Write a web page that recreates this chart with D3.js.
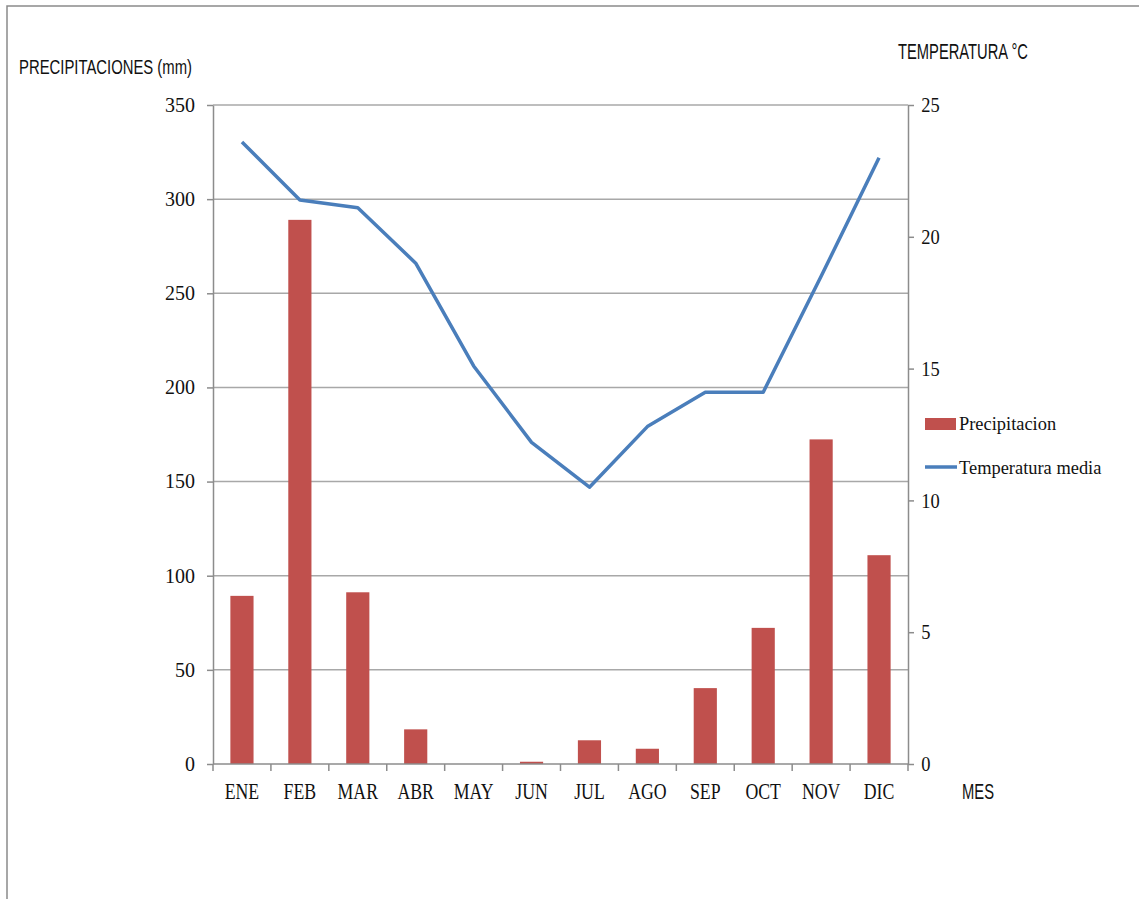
<!DOCTYPE html>
<html>
<head>
<meta charset="utf-8">
<script src="https://cdn.jsdelivr.net/npm/d3@7"></script>
<style>
  html, body { margin: 0; padding: 0; background: #fff; }
  svg { display: block; }
</style>
</head>
<body>
<script>
// Monthly climate data
const months = ["ENE","FEB","MAR","ABR","MAY","JUN","JUL","AGO","SEP","OCT","NOV","DIC"];
const precipitacion = [89.3, 289, 91.2, 18.4, 0, 1.2, 12.6, 8.1, 40.3, 72.3, 172.4, 110.9];
const temperatura = [23.6, 21.4, 21.1, 19.0, 15.1, 12.2, 10.5, 12.8, 14.1, 14.1, 18.5, 23.0];
const precipTicks = [0, 50, 100, 150, 200, 250, 300, 350];
const tempTicks = [0, 5, 10, 15, 20, 25];
const legendItems = ["Precipitacion", "Temperatura media"];

const W = 1139, H = 899;
const margin = { left: 213, right: W - 908, top: 105, bottom: H - 764 };
const barColor = "#c0504d";
const lineColor = "#4a7ebb";
const axisColor = "#8c8c8c";
const gridColor = "#a8a8a8";
const serif = "'Liberation Serif', 'Times New Roman', serif";
const sans = "'Liberation Sans', Arial, sans-serif";

const svg = d3.select("body").append("svg").attr("width", W).attr("height", H);

// Outer frame (top and left edges)
svg.append("path")
  .attr("d", `M7,${H} L7,6 L${W},6`)
  .attr("fill", "none").attr("stroke", "#8a8a8a").attr("stroke-width", 1.5);

const x = d3.scaleBand().domain(months).range([margin.left, W - margin.right]).padding(0);
const yP = d3.scaleLinear().domain([0, 350]).range([H - margin.bottom, margin.top]);
const yT = d3.scaleLinear().domain([0, 25]).range([H - margin.bottom, margin.top]);

// Horizontal gridlines
svg.append("g").selectAll("line").data(precipTicks.filter(d => d > 0)).join("line")
  .attr("x1", margin.left).attr("x2", W - margin.right)
  .attr("y1", d => yP(d)).attr("y2", d => yP(d))
  .attr("stroke", gridColor).attr("stroke-width", 1.5);

// Bars
const barW = x.bandwidth() * 0.4;
svg.append("g").selectAll("rect").data(months).join("rect")
  .attr("x", (m) => x(m) + (x.bandwidth() - barW) / 2)
  .attr("width", barW)
  .attr("y", (m, i) => yP(precipitacion[i]))
  .attr("height", (m, i) => yP(0) - yP(precipitacion[i]))
  .attr("fill", barColor);

// Temperature line
const line = d3.line()
  .x((d, i) => x(months[i]) + x.bandwidth() / 2)
  .y(d => yT(d));
svg.append("path").datum(temperatura)
  .attr("d", line)
  .attr("fill", "none").attr("stroke", lineColor)
  .attr("stroke-width", 3.5).attr("stroke-linejoin", "round");

function styleAxis(g) {
  g.select(".domain").attr("stroke", axisColor).attr("stroke-width", 1.5);
  g.selectAll(".tick line").attr("stroke", axisColor).attr("stroke-width", 1.5);
  g.selectAll(".tick text").attr("fill", "#111");
}

// Left axis (mm)
const gl = svg.append("g").attr("transform", `translate(${margin.left},0)`)
  .call(d3.axisLeft(yP).tickValues(precipTicks).tickSize(6).tickSizeOuter(0).tickPadding(12));
styleAxis(gl);
gl.selectAll(".tick text").attr("font-family", serif).attr("font-size", 20);

// Right axis (°C)
const gr = svg.append("g").attr("transform", `translate(${W - margin.right},0)`)
  .call(d3.axisRight(yT).tickValues(tempTicks).tickSize(6).tickSizeOuter(0).tickPadding(9));
styleAxis(gr);
gr.selectAll(".tick text").attr("font-family", serif).attr("font-size", 21)
  .attr("transform", "scale(0.88,1)");

// Bottom axis: ticks at band boundaries, labels centered in each band
const boundaries = d3.range(months.length + 1).map(i => margin.left + i * x.step());
const gb = svg.append("g");
gb.append("line")
  .attr("x1", margin.left).attr("x2", W - margin.right)
  .attr("y1", yP(0)).attr("y2", yP(0))
  .attr("stroke", axisColor).attr("stroke-width", 1.5);
gb.selectAll("line.tk").data(boundaries).join("line").attr("class", "tk")
  .attr("x1", d => d).attr("x2", d => d)
  .attr("y1", yP(0)).attr("y2", yP(0) + 7)
  .attr("stroke", axisColor).attr("stroke-width", 1.5);
gb.selectAll("text").data(months).join("text")
  .attr("transform", m => `translate(${x(m) + x.bandwidth() / 2},799) scale(0.74,1)`)
  .attr("text-anchor", "middle")
  .attr("font-family", serif).attr("font-size", 24).attr("fill", "#111")
  .text(m => m);

// Axis titles
svg.append("text").attr("x", 19).attr("y", 74)
  .attr("font-family", sans).attr("font-size", 19.5).attr("fill", "#111")
  .attr("textLength", 173).attr("lengthAdjust", "spacingAndGlyphs")
  .text("PRECIPITACIONES (mm)");
svg.append("text").attr("x", 898).attr("y", 59)
  .attr("font-family", sans).attr("font-size", 21.5).attr("fill", "#111")
  .attr("textLength", 130).attr("lengthAdjust", "spacingAndGlyphs")
  .text("TEMPERATURA °C");
svg.append("text").attr("x", 962).attr("y", 799)
  .attr("font-family", sans).attr("font-size", 22).attr("fill", "#111")
  .attr("textLength", 32).attr("lengthAdjust", "spacingAndGlyphs")
  .text("MES");

// Legend
const lg = svg.append("g");
lg.append("rect").attr("x", 925).attr("y", 418).attr("width", 31).attr("height", 12).attr("fill", barColor);
lg.append("line").attr("x1", 925).attr("x2", 957).attr("y1", 467).attr("y2", 467)
  .attr("stroke", lineColor).attr("stroke-width", 3.5);
lg.selectAll("text").data(legendItems).join("text")
  .attr("x", 959).attr("y", (d, i) => i === 0 ? 430 : 474)
  .attr("font-family", serif).attr("font-size", 19).attr("fill", "#111")
  .attr("transform", "translate(959,0) scale(0.97,1) translate(-959,0)")
  .text(d => d);
</script>
</body>
</html>
